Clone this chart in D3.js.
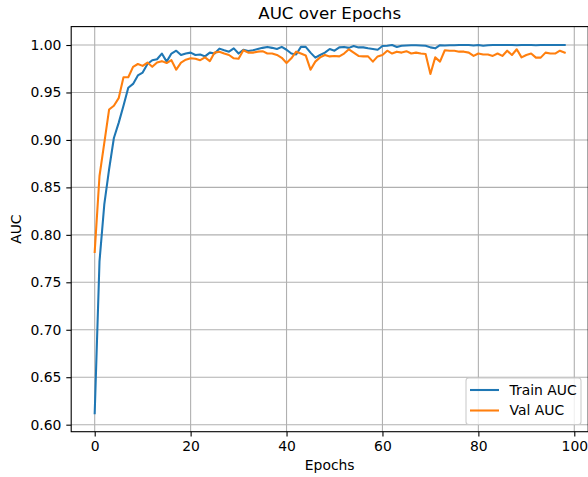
<!DOCTYPE html>
<html>
<head>
<meta charset="utf-8">
<script src="https://cdn.jsdelivr.net/npm/d3@7"></script>
<style>
  html, body { margin: 0; padding: 0; background: #fff; }
  svg { display: block; }
  text { font-family: "DejaVu Sans", sans-serif; fill: #000; }
</style>
</head>
<body>
<svg id="chart" width="588" height="477"></svg>
<script>
const title = "AUC over Epochs";
const xLabel = "Epochs";
const yLabel = "AUC";
const seriesNames = ["Train AUC", "Val AUC"];
const xTicks = [0, 20, 40, 60, 80, 100];
const yTicks = [0.60, 0.65, 0.70, 0.75, 0.80, 0.85, 0.90, 0.95, 1.00];

const trainAuc = [
  0.612, 0.772, 0.832, 0.869, 0.902, 0.918, 0.936, 0.955, 0.959, 0.968,
  0.971, 0.980, 0.984, 0.985, 0.991, 0.9825, 0.991, 0.994, 0.9895, 0.991,
  0.992, 0.9895, 0.990, 0.988, 0.992, 0.991, 0.9962, 0.9945, 0.993, 0.9965,
  0.991, 0.995, 0.9937, 0.9945, 0.9958, 0.997, 0.998, 0.997, 0.9958, 0.998,
  0.995, 0.991, 0.990, 0.998, 0.998, 0.992, 0.9867, 0.9895, 0.992, 0.9958,
  0.994, 0.9975, 0.998, 0.997, 0.999, 0.9975, 0.9975, 0.9965, 0.9958, 0.995,
  0.999, 0.9993, 1.000, 0.998, 0.9993, 0.9995, 0.9998, 0.9998, 0.9995, 0.9993,
  0.9975, 0.9965, 0.9998, 0.9995, 0.9997, 0.9998, 1.000, 1.000, 1.000, 0.9995,
  1.000, 0.9993, 0.9998, 1.000, 1.000, 1.000, 1.000, 1.000, 0.9998, 1.000,
  1.000, 1.000, 0.9998, 1.000, 1.000, 1.000, 1.000, 1.000, 1.000
];

const valAuc = [
  0.782, 0.862, 0.897, 0.932, 0.936, 0.944, 0.966, 0.966, 0.977, 0.980,
  0.978, 0.9815, 0.977, 0.9815, 0.983, 0.981, 0.984, 0.974, 0.9815, 0.9845,
  0.986, 0.9855, 0.984, 0.987, 0.983, 0.992, 0.993, 0.991, 0.9895, 0.986,
  0.9855, 0.9945, 0.992, 0.992, 0.993, 0.9935, 0.991, 0.991, 0.9895, 0.9865,
  0.981, 0.986, 0.993, 0.991, 0.989, 0.974, 0.9825, 0.987, 0.9895, 0.988,
  0.9885, 0.988, 0.991, 0.9955, 0.992, 0.9885, 0.988, 0.988, 0.9825, 0.988,
  0.9895, 0.994, 0.991, 0.993, 0.992, 0.9935, 0.991, 0.992, 0.991, 0.9905,
  0.9695, 0.987, 0.9825, 0.9945, 0.994, 0.994, 0.993, 0.993, 0.992, 0.9885,
  0.991, 0.990, 0.990, 0.9885, 0.991, 0.9885, 0.994, 0.9895, 0.9955, 0.987,
  0.9895, 0.991, 0.9867, 0.9867, 0.992, 0.991, 0.991, 0.994, 0.992
];

const colors = ["#1f77b4", "#ff7f0e"];

const svg = d3.select("#chart");
const pL = 71.2, pR = 588.2, pT = 26.6, pB = 431.7;

const n = trainAuc.length;
const allVals = trainAuc.concat(valAuc);
const yMin = d3.min(allVals), yMax = d3.max(allVals);
const yPad = (yMax - yMin) * 0.05;
const xPad = (n - 1) * 0.05;

const x = d3.scaleLinear().domain([-xPad, (n - 1) + xPad]).range([pL, pR]);
const y = d3.scaleLinear().domain([yMin - yPad, yMax + yPad]).range([pB, pT]);

const fs = 13.9;

svg.append("defs").append("clipPath").attr("id", "clip")
  .append("rect").attr("x", pL).attr("y", pT).attr("width", pR - pL).attr("height", pB - pT);

const grid = svg.append("g");
grid.selectAll(".gx").data(xTicks).enter().append("line")
  .attr("x1", d => x(d)).attr("x2", d => x(d))
  .attr("y1", pT).attr("y2", pB)
  .attr("stroke", "#b0b0b0").attr("stroke-width", 1.1);
grid.selectAll(".gy").data(yTicks).enter().append("line")
  .attr("x1", pL).attr("x2", pR)
  .attr("y1", d => y(d)).attr("y2", d => y(d))
  .attr("stroke", "#b0b0b0").attr("stroke-width", 1.1);

const line = d3.line().x((d, i) => x(i)).y(d => y(d));
const plot = svg.append("g").attr("clip-path", "url(#clip)");
[trainAuc, valAuc].forEach((s, k) => {
  plot.append("path").datum(s)
    .attr("d", line)
    .attr("fill", "none")
    .attr("stroke", colors[k])
    .attr("stroke-width", 2.08)
    .attr("stroke-linejoin", "round")
    .attr("stroke-linecap", "square");
});

const xAxis = d3.axisBottom(x).tickValues(xTicks).tickFormat(d3.format("d"))
  .tickSize(4.9).tickPadding(4.9);
const yAxis = d3.axisLeft(y).tickValues(yTicks).tickFormat(d3.format(".2f"))
  .tickSize(4.9).tickPadding(4.9);

const gx = svg.append("g").attr("transform", `translate(0,${pB})`).call(xAxis);
const gy = svg.append("g").attr("transform", `translate(${pL},0)`).call(yAxis);
[gx, gy].forEach(g => {
  g.select(".domain").remove();
  g.selectAll(".tick line").attr("stroke", "#000").attr("stroke-width", 1.1);
  g.selectAll(".tick text").attr("font-size", fs).attr("font-family", "DejaVu Sans").attr("fill", "#262626");
});

svg.append("rect").attr("x", pL).attr("y", pT).attr("width", pR - pL).attr("height", pB - pT)
  .attr("fill", "none").attr("stroke", "#000").attr("stroke-width", 1.1);

svg.append("text").attr("x", (pL + pR) / 2).attr("y", 18.5)
  .attr("text-anchor", "middle").attr("font-size", 16.7).text(title);
svg.append("text").attr("x", (pL + pR) / 2).attr("y", 470)
  .attr("text-anchor", "middle").attr("font-size", fs).text(xLabel);
svg.append("text").attr("transform", `translate(21,${(pT + pB) / 2}) rotate(-90)`)
  .attr("text-anchor", "middle").attr("font-size", fs).text(yLabel);

const lg = svg.append("g");
const lx = 466, ly = 378, lw = 115, lh = 46.5;
lg.append("rect").attr("x", lx).attr("y", ly).attr("width", lw).attr("height", lh)
  .attr("rx", 2.8).attr("fill", "rgba(255,255,255,0.8)").attr("stroke", "#cccccc").attr("stroke-width", 1.1);
seriesNames.forEach((name, k) => {
  const yy = 390 + k * 20.5;
  lg.append("line").attr("x1", 470).attr("x2", 499).attr("y1", yy).attr("y2", yy)
    .attr("stroke", colors[k]).attr("stroke-width", 2.08);
  lg.append("text").attr("x", 509.5).attr("y", yy + 4.9).attr("font-size", fs).text(name);
});
</script>
</body>
</html>
